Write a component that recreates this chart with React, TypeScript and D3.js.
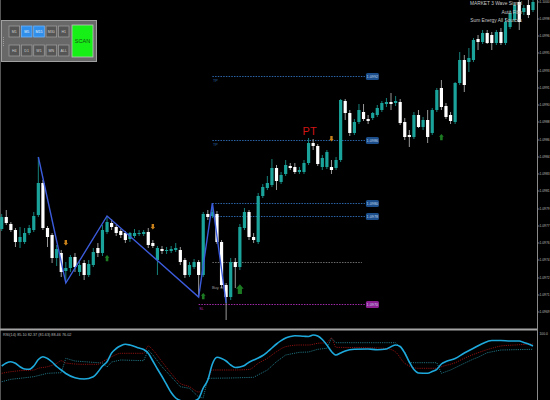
import React, { useEffect } from "react";
import * as d3 from "d3";

// ---------- price data (candles, index 0..116) ----------
const openP = [1.09771,1.09783,1.09776,1.09770,1.09758,1.09758,1.09767,1.09770,1.09785,1.09817,
1.09772,1.09765,1.09742,1.09747,1.09729,1.09732,1.09743,1.09728,1.09737,1.09725,
1.09735,1.09752,1.09747,1.09768,1.09777,1.09773,1.09769,1.09767,1.09761,1.09764,
1.09766,1.09766,1.09768,1.09757,1.09740,1.09751,1.09749,1.09749,1.09750,1.09750,
1.09740,1.09725,1.09733,1.09738,1.09725,1.09786,1.09784,1.09786,1.09758,1.09715,
1.09703,1.09738,1.09733,1.09772,1.09788,1.09763,1.09758,1.09804,1.09812,1.09815,
1.09832,1.09818,1.09826,1.09834,1.09833,1.09828,1.09828,1.09837,1.09857,1.09854,
1.09833,1.09833,1.09833,1.09832,1.09840,1.09899,1.09887,1.09867,1.09878,1.09888,
1.09881,1.09882,1.09885,1.09890,1.09896,1.09898,1.09897,1.09898,1.09878,1.09865,
1.09863,1.09885,1.09873,1.09880,1.09867,1.09890,1.09912,1.09894,1.09885,1.09878,
1.09917,1.09940,1.09938,1.09940,1.09961,1.09958,1.09967,1.09965,1.09957,1.09968,
1.09957,1.09973,1.09980,1.09998,1.09988,1.09995,1.09990];
const highP = [1.09786,1.09790,1.09778,1.09772,1.09773,1.09772,1.09775,1.09788,1.09843,1.09820,
1.09774,1.09767,1.09755,1.09750,1.09738,1.09745,1.09747,1.09738,1.09740,1.09740,
1.09752,1.09757,1.09775,1.09784,1.09781,1.09775,1.09771,1.09769,1.09768,1.09771,
1.09770,1.09770,1.09772,1.09760,1.09754,1.09754,1.09753,1.09754,1.09757,1.09753,
1.09742,1.09738,1.09741,1.09740,1.09788,1.09790,1.09797,1.09789,1.09760,1.09717,
1.09742,1.09742,1.09776,1.09792,1.09790,1.09767,1.09807,1.09816,1.09824,1.09841,
1.09835,1.09828,1.09840,1.09837,1.09837,1.09833,1.09840,1.09862,1.09861,1.09856,
1.09845,1.09850,1.09840,1.09843,1.09901,1.09901,1.09890,1.09881,1.09896,1.09896,
1.09885,1.09888,1.09895,1.09899,1.09902,1.09907,1.09904,1.09901,1.09882,1.09870,
1.09888,1.09890,1.09883,1.09890,1.09892,1.09912,1.09920,1.09897,1.09888,1.09918,
1.09948,1.09945,1.09952,1.09962,1.09965,1.09970,1.09970,1.09968,1.09970,1.09972,
1.09982,1.09990,1.09997,1.10000,1.09995,1.10000,1.10000];
const lowP = [1.09769,1.09775,1.09768,1.09753,1.09752,1.09756,1.09765,1.09768,1.09783,1.09770,
1.09753,1.09737,1.09734,1.09723,1.09717,1.09728,1.09728,1.09724,1.09720,1.09723,
1.09733,1.09743,1.09744,1.09766,1.09770,1.09764,1.09762,1.09757,1.09758,1.09762,
1.09764,1.09764,1.09752,1.09752,1.09725,1.09746,1.09746,1.09747,1.09748,1.09735,
1.09722,1.09723,1.09731,1.09703,1.09723,1.09780,1.09782,1.09756,1.09712,1.09680,
1.09700,1.09712,1.09730,1.09770,1.09760,1.09757,1.09756,1.09802,1.09810,1.09813,
1.09810,1.09816,1.09824,1.09830,1.09826,1.09826,1.09826,1.09835,1.09850,1.09834,
1.09830,1.09831,1.09826,1.09830,1.09838,1.09880,1.09864,1.09865,1.09876,1.09879,
1.09876,1.09880,1.09883,1.09888,1.09893,1.09890,1.09894,1.09875,1.09860,1.09853,
1.09861,1.09872,1.09870,1.09857,1.09865,1.09888,1.09890,1.09881,1.09876,1.09876,
1.09915,1.09908,1.09928,1.09938,1.09950,1.09956,1.09956,1.09950,1.09955,1.09955,
1.09955,1.09971,1.09978,1.09970,1.09985,1.09982,1.09988];
const closeP = [1.09783,1.09777,1.09770,1.09758,1.09763,1.09767,1.09772,1.09784,1.09817,1.09772,
1.09763,1.09742,1.09751,1.09728,1.09732,1.09743,1.09733,1.09735,1.09725,1.09736,
1.09748,1.09747,1.09770,1.09778,1.09773,1.09767,1.09765,1.09760,1.09767,1.09767,
1.09767,1.09768,1.09755,1.09754,1.09752,1.09749,1.09750,1.09751,1.09752,1.09738,
1.09725,1.09735,1.09738,1.09725,1.09786,1.09783,1.09788,1.09758,1.09715,1.09703,
1.09738,1.09733,1.09773,1.09788,1.09763,1.09760,1.09804,1.09813,1.09817,1.09832,
1.09819,1.09825,1.09835,1.09832,1.09828,1.09830,1.09837,1.09857,1.09854,1.09836,
1.09842,1.09848,1.09830,1.09840,1.09900,1.09887,1.09867,1.09878,1.09890,1.09881,
1.09879,1.09887,1.09892,1.09897,1.09898,1.09896,1.09899,1.09877,1.09863,1.09863,
1.09885,1.09873,1.09880,1.09863,1.09890,1.09910,1.09893,1.09883,1.09879,1.09917,
1.09940,1.09915,1.09942,1.09960,1.09958,1.09967,1.09957,1.09957,1.09968,1.09957,
1.09978,1.09987,1.09995,1.09978,1.09992,1.09985,1.09998];

// price axis tick labels
const priceTicks = [1.09998,1.09981,1.09964,1.09947,1.09929,1.09912,1.09895,1.09878,1.09860,1.09843,
1.09826,1.09809,1.09791,1.09774,1.09757,1.09740,1.09722,1.09705,1.09688];

// zigzag pivots
const zigIdx = [8, 14, 23, 43, 46, 49];
const zigP = [1.09843, 1.09717, 1.09784, 1.09703, 1.09797, 1.09697];

// level lines
const levelP = [1.09924, 1.09860, 1.09797, 1.09784, 1.09738, 1.09696];
const levelStart = [46, 46, 46, 46, 46, 43];
const levelKind = ["tp", "tp", "tp", "tp", "mid", "sl"];
const levelName = ["TP", "TP", "", "", "", "SL"];

// signal markers
const orangeIdx = [14, 33, 72];
const orangeP = [1.09757, 1.09773, 1.09861];
const greenIdx = [23, 44, 52, 96];
const greenP = [1.09742, 1.09704, 1.09711, 1.09863];

// oscillator
const mainIdx = [0,1,2,3,4,5,6,7,8,9,10,11,12,13,14,16,18,20,21,22,23,24,25,26,27,28,30,31,32,33,34,35,36,37,38,39,41,42,43,44,45,46,47,48,49,50,51,52,53,54,55,56,57,58,59,60,61,62,63,64,66,67,68,69,70,71,72,73,74,75,77,80,82,84,85,86,87,88,89,90,91,93,94,95,96,97,99,101,103,105,107,109,111,113,114,115,116];
const mainVal = [65,68,69.3,67.7,64.3,62,61.7,65,71.5,74.3,72.5,69,64.5,61,57.5,53.3,52,54.3,59,65,69.3,78,82.5,85.2,86.7,86,83,81.5,77.7,70,62,54.5,46.5,38.5,33,30.5,29,30,32.5,43,51,67,73.7,72.5,70,66,63.5,64,65.5,68.8,71,73,75.5,79,83,87,90.3,93,94.5,95.3,94.7,94.5,96,95,91.5,86,79.5,76,78,80,81.7,82,81.3,82,84.3,86,84.5,78,69,61.5,58,57.7,59.5,61.7,67,69.5,72.5,78,82.7,87.5,90.5,90.5,90,90,88.5,87,85];
const sigIdx = [0,2,4,7,8,10,12,13,14,18,21,22,24,26,31,32,33,35,37,39,41,43,45,46,50,54,56,58,60,62,65,67,69,71,72,73,80,84,86,88,91,95,96,99,101,104,107,109,112,116];
const sigVal = [57.7,59.3,60.3,61,62.7,64.3,67.7,70.3,68,66.7,66.7,69.3,74.3,77.7,77.7,85,81,69.3,57.7,47.7,44.3,39,51,61,61,61.5,67.7,72.7,79.3,84.3,86,86,87.7,88.3,93,83.7,83.3,82.5,79,67.7,62.7,62.7,64.3,68.3,72.7,78.3,82.7,85,86,87];
const trailIdx = [0,2,4,7,10,13,14,16,21,22,23,24,26,31,32,33,35,37,39,41,43,44,45,50,55,58,60,62,65,67,69,71,72,73,86,88,89,95,96,98,101,103,104,106,109,116];
const trailVal = [49.3,51.7,52.7,54.3,57.7,58.3,72.7,70,68.3,68,64,69,71,70.3,81,76,64.3,54.3,44.3,42.7,34,33,52.7,53,53.7,61,69.3,76,78.7,79,81.7,82.7,92.7,88.3,88.3,79,68.3,68.3,57.7,61,67.7,72,73.7,78.3,81,81.7];
const oscTicks = [100];

// panel buttons & texts
const row1 = ["M1", "M5", "M15", "M30", "H1"];
const row2 = ["H4", "D1", "W1", "MN", "ALL"];
const activeTf = ["M5", "M15"];
const infoLines = ["MARKET 3 Wave Signal", "Auto Fibo", "Sum Energy All Sources"];
const oscTitle = "RSI(14) 85.10 82.37 (81.63) 88.46 76.02";

const TEAL = "#1aa39b";
const FONT = "'Liberation Sans', Arial, sans-serif";

export default function App() {
  useEffect(() => {
    document.body.style.margin = "0";
    document.body.style.background = "#000";
  }, []);

  const x = d3.scaleLinear().domain([0, 116]).range([1.7, 533]);
  const y = d3.scaleLinear().domain([1.0967, 1.1]).range([330, 0]);
  const oy = d3.scaleLinear().domain([31, 100]).range([400, 331]);
  const fmt = d3.format(".4f");
  const endX = x(79.3);

  const zig = d3.line<number>().x((d, i) => x(zigIdx[i])).y((d) => y(d));
  const mainLine = d3.line<number>().x((d, i) => x(mainIdx[i])).y((d) => oy(d)).curve(d3.curveMonotoneX);
  const sigLine = d3.line<number>().x((d, i) => x(sigIdx[i])).y((d) => oy(d)).curve(d3.curveMonotoneX);
  const trailLine = d3.line<number>().x((d, i) => x(trailIdx[i])).y((d) => oy(d));

  const bx = d3.scaleBand<number>().domain([0, 1, 2, 3, 4]).range([9, 69]).paddingInner(0.14);

  return (
    <svg width={550} height={400} style={{ position: "fixed", left: 0, top: 0, display: "block" }}>
      <rect x={0} y={0} width={550} height={400} fill="#000" />
      <defs>
        <clipPath id="mainClip"><rect x={0} y={0} width={537} height={328.5} /></clipPath>
        <clipPath id="oscClip"><rect x={0} y={331} width={537} height={69} /></clipPath>
      </defs>

      {/* left border */}
      <line x1={0.5} y1={0} x2={0.5} y2={400} stroke="#555" strokeWidth={1} />

      <g clipPath="url(#mainClip)">
        {/* level lines */}
        {levelP.map((p, i) => {
          const col = levelKind[i] === "sl" ? "#a02aa8" : levelKind[i] === "mid" ? "#6b6b6b" : "#2b64a8";
          const yy = Math.round(y(p)) + 0.5;
          return (
            <g key={"lv" + i}>
              <line x1={x(levelStart[i])} x2={levelKind[i] === "mid" ? endX - 3 : endX} y1={yy} y2={yy}
                stroke={col} strokeWidth={1} strokeDasharray="1.5 1.2" />
              {levelKind[i] !== "mid" && (
                <g>
                  <rect x={endX + 1} y={yy - 3.5} width={13} height={7} rx={1.5}
                    fill={levelKind[i] === "sl" ? "#8e1f93" : "#1b4e8a"} />
                  <text x={endX + 7.5} y={yy + 1.5} fontSize={3.8} fill="#c8d8ee" textAnchor="middle" fontFamily={FONT}>
                    {fmt(p)}
                  </text>
                </g>
              )}
              {levelName[i] && (
                <text x={x(levelStart[i]) + 0.5} y={yy + 5} fontSize={3.8} fill={col} fontFamily={FONT}>{levelName[i]}</text>
              )}
            </g>
          );
        })}

        {/* candles */}
        {openP.map((o, i) => {
          const c = closeP[i];
          const bull = c >= o;
          const col = bull ? TEAL : "#ffffff";
          const cx = x(i);
          const top = y(Math.max(o, c));
          const bot = y(Math.min(o, c));
          return (
            <g key={"c" + i}>
              <line x1={cx} x2={cx} y1={y(highP[i])} y2={y(lowP[i])} stroke={bull ? "#188f88" : "#a9a9a9"} strokeWidth={0.9} />
              <rect x={cx - 1.6} y={top} width={3.2} height={Math.max(1, bot - top)} fill={col} />
            </g>
          );
        })}

        {/* zigzag */}
        <path d={zig(zigP) || ""} fill="none" stroke="#3b5bdb" strokeWidth={1.4} />

        {/* markers */}
        {orangeIdx.map((idx, i) => {
          const cx = x(idx), cy = y(orangeP[i]);
          return <path key={"o" + i} d={`M${cx - 1.2},${cy - 3} h2.4 v3 h1 l-2.2,2.6 l-2.2,-2.6 h1 z`} fill="#c7801a" />;
        })}
        {greenIdx.map((idx, i) => {
          const cx = x(idx), cy = y(greenP[i]);
          const s = idx === 52 ? 1.6 : 1;
          return <path key={"g" + i} d={`M${cx},${cy - 3 * s} l${2.4 * s},${2.8 * s} h${-1.1 * s} v${3.4 * s} h${-2.6 * s} v${-3.4 * s} h${-1.1 * s} z`} fill="#1c7a22" />;
        })}

        <text x={x(67) - 6} y={y(1.09862) - 3} fontSize={11} fill="#d01515" fontFamily="'Liberation Sans Narrow', 'Liberation Sans', Arial, sans-serif">PT</text>
        <text x={x(46) - 0.5} y={y(1.09711)} fontSize={4} fill="#9a9a9a" fontFamily={FONT}>Buy st</text>
      </g>

      {/* info texts top right */}
      {infoLines.map((t, i) => (
        <text key={"info" + i} x={522} y={5 + i * 8.5} fontSize={4.8} fill="#c8c8c8" textAnchor="end" fontFamily={FONT}>{t}</text>
      ))}

      {/* price axis */}
      <line x1={537.5} y1={0} x2={537.5} y2={400} stroke="#8a8a8a" strokeWidth={1} />
      {priceTicks.map((p, i) => (
        <g key={"t" + i}>
          <line x1={537.5} x2={539.5} y1={y(p)} y2={y(p)} stroke="#8a8a8a" strokeWidth={0.8} />
          <text x={539.5} y={y(p) + 1.3} fontSize={3.3} fill="#bdbdbd" fontFamily={FONT}>{fmt(p)}</text>
        </g>
      ))}

      {/* separator */}
      <rect x={0} y={328.5} width={537} height={2} fill="#a4a4a4" />

      {/* oscillator */}
      <text x={3} y={336} fontSize={3.8} fill="#b8b8b8" fontFamily={FONT}>{oscTitle}</text>
      {oscTicks.map((v) => (
        <text key={"ot" + v} x={539.5} y={oy(v) + 3.5} fontSize={3.3} fill="#bdbdbd" fontFamily={FONT}>{v.toFixed(1)}</text>
      ))}
      <g clipPath="url(#oscClip)">
        <path d={trailLine(trailVal) || ""} fill="none" stroke="#1f6f7c" strokeWidth={1} strokeDasharray="1.2 1" />
        <path d={sigLine(sigVal) || ""} fill="none" stroke="#8a1111" strokeWidth={1} strokeDasharray="1.2 1" />
        <path d={mainLine(mainVal) || ""} fill="none" stroke="#1ea9dc" strokeWidth={1.6} />
      </g>

      {/* button panel */}
      <g fontFamily={FONT}>
        <rect x={1.5} y={20.5} width={95} height={41} fill="#686868" stroke="#a0a0a0" strokeWidth={1} />
        <line x1={3.5} x2={3.5} y1={37} y2={46} stroke="#9a9a9a" strokeWidth={1} strokeDasharray="1 1" />
        {[row1, row2].map((row, r) =>
          row.map((lab, j) => {
            const act = activeTf.includes(lab);
            const by = r === 0 ? 26 : 45;
            return (
              <g key={lab}>
                <rect x={bx(j)} y={by} width={bx.bandwidth()} height={11} fill={act ? "#2f8fea" : "#555"} stroke={act ? "#6cb4ff" : "#9a9a9a"} strokeWidth={0.8} />
                <text x={(bx(j) || 0) + bx.bandwidth() / 2} y={by + 7} fontSize={3.6} fill={act ? "#e8f2ff" : "#cfcfcf"} textAnchor="middle">{lab}</text>
              </g>
            );
          })
        )}
        <rect x={72} y={25} width={21} height={32} fill="#16f016" stroke="#c0c0c0" strokeWidth={0.8} />
        <text x={82.5} y={43} fontSize={5.5} fill="#145214" textAnchor="middle">SCAN</text>
      </g>
    </svg>
  );
}
